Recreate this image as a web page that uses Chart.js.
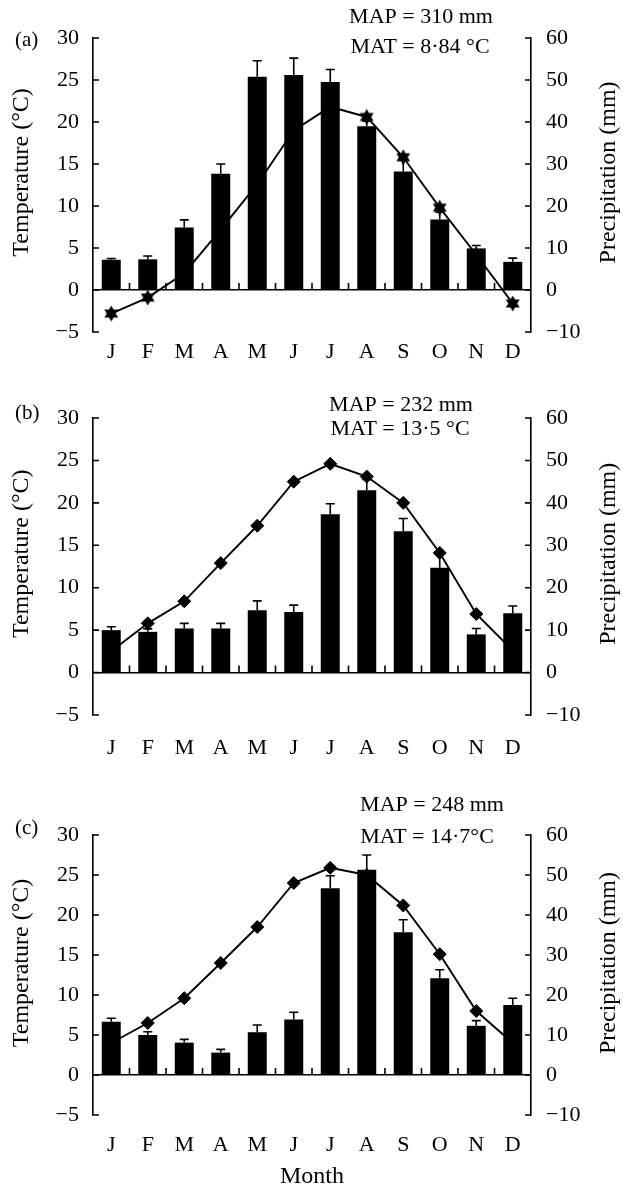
<!DOCTYPE html>
<html>
<head>
<meta charset="utf-8">
<script src="https://cdn.jsdelivr.net/npm/chart.js@4.4.0/dist/chart.umd.min.js"></script>
<style>
  html, body { margin: 0; padding: 0; background: #fff; }
  #wrap { position: relative; width: 623px; height: 1190px; }
  canvas { position: absolute; left: 0; }
</style>
</head>
<body>
<div id="wrap">
  <canvas id="chartA" width="623" height="385" style="top:0"></canvas>
  <canvas id="chartB" width="623" height="385" style="top:385px"></canvas>
  <canvas id="chartC" width="623" height="420" style="top:770px"></canvas>
</div>
<script>
const months = ['J', 'F', 'M', 'A', 'M', 'J', 'J', 'A', 'S', 'O', 'N', 'D'];
const tempTicks = [-5, 0, 5, 10, 15, 20, 25, 30];
const precipTicks = [-10, 0, 10, 20, 30, 40, 50, 60];

// (a)
const tempA = [-2.8, -0.9, 2.0, 7.2, 12.6, 19.0, 21.8, 20.6, 15.8, 9.8, 4.2, -1.6];
const precipA = [7.2, 7.3, 14.9, 27.7, 50.8, 51.2, 49.5, 39.0, 28.2, 16.8, 9.9, 6.7];
const precipSdA = [0.3, 0.8, 1.8, 2.3, 3.8, 4.0, 3.0, 1.2, 3.0, 1.7, 0.7, 0.9];
// (b)
const tempB = [2.5, 5.8, 8.4, 12.9, 17.3, 22.5, 24.6, 23.1, 20.0, 14.1, 6.9, 2.6];
const precipB = [10.0, 9.6, 10.4, 10.4, 14.7, 14.3, 37.3, 43.0, 33.3, 24.7, 9.0, 14.0];
const precipSdB = [0.8, 0.7, 1.2, 1.2, 2.2, 1.6, 2.5, 2.5, 3.0, 3.5, 1.4, 1.7];
// (c)
const tempC = [4.0, 6.5, 9.6, 14.0, 18.5, 24.0, 25.9, 25.0, 21.2, 15.1, 8.0, 4.0];
const precipC = [13.3, 10.0, 8.1, 5.6, 10.7, 13.9, 46.7, 51.3, 35.7, 24.2, 12.3, 17.5];
const precipSdC = [0.9, 0.8, 0.8, 0.8, 1.8, 1.8, 3.1, 3.7, 3.1, 2.1, 1.3, 1.7];

const panelLetters = ['(a)', '(b)', '(c)'];
const mapLabels = ['MAP = 310 mm', 'MAP = 232 mm', 'MAP = 248 mm'];
const matLabels = ['MAT = 8\u00b784 \u00b0C', 'MAT = 13\u00b75 \u00b0C', 'MAT = 14\u00b77\u00b0C'];

const SERIF = "'Liberation Serif', 'Times New Roman', serif";
Chart.defaults.font.family = SERIF;
Chart.defaults.font.size = 22;
Chart.defaults.color = '#000';

const minus = v => v < 0 ? '\u2212' + (-v) : '' + v;

// filled star marker for panel (a)
function starMarker() {
  const c = document.createElement('canvas');
  c.width = 17; c.height = 17;
  const g = c.getContext('2d');
  g.beginPath();
  for (let i = 0; i < 12; i++) {
    const r = i % 2 ? 4.5 : 8;
    const a = Math.PI / 6 * i - Math.PI / 2;
    g.lineTo(8.5 + r * Math.cos(a), 8.5 + r * Math.sin(a));
  }
  g.closePath();
  g.fillStyle = '#000';
  g.fill();
  return c;
}

// axis ticks, zero line ticks, error bars and the free text
const decor = {
  id: 'decor',
  beforeDatasetsDraw(chart, args, o) {
    const ctx = chart.ctx;
    const x = chart.scales.x, y = chart.scales.y, y1 = chart.scales.y1;
    ctx.save();
    ctx.strokeStyle = '#000';
    ctx.lineWidth = 1.6;
    ctx.beginPath();
    // inward ticks on both vertical axes
    y.ticks.forEach(t => {
      const py = y.getPixelForValue(t.value);
      ctx.moveTo(x.left, py); ctx.lineTo(x.left + 6, py);
    });
    y1.ticks.forEach(t => {
      const py = y1.getPixelForValue(t.value);
      ctx.moveTo(x.right, py); ctx.lineTo(x.right - 6, py);
    });
    // category boundary ticks on the zero line
    const y0 = y.getPixelForValue(0);
    for (let i = 1; i < months.length; i++) {
      const px = (x.getPixelForValue(i - 1) + x.getPixelForValue(i)) / 2;
      ctx.moveTo(px, y0); ctx.lineTo(px, y0 - 7);
    }
    // error bars
    const bars = chart.getDatasetMeta(0).data;
    bars.forEach((b, i) => {
      const top = y1.getPixelForValue(o.precip[i] + o.sd[i]);
      ctx.moveTo(b.x, b.y); ctx.lineTo(b.x, top);
      ctx.moveTo(b.x - 4.5, top); ctx.lineTo(b.x + 4.5, top);
    });
    ctx.stroke();
    ctx.restore();
  },
  afterDraw(chart, args, o) {
    const ctx = chart.ctx;
    const y = chart.scales.y;
    ctx.save();
    ctx.fillStyle = '#000';
    ctx.textBaseline = 'middle';
    ctx.font = '21px ' + SERIF;
    ctx.textAlign = 'left';
    ctx.fillText(o.letter, 15, o.letterY);
    ctx.font = '22px ' + SERIF;
    ctx.textAlign = 'center';
    ctx.fillText(o.map, o.mapX, o.mapY);
    ctx.fillText(o.mat, o.matX, o.matY);
    // axis titles centred a bit above the middle, as in the original
    ctx.font = '24px ' + SERIF;
    const ty = y.getPixelForValue(14);
    ctx.save();
    ctx.translate(22, ty); ctx.rotate(-Math.PI / 2);
    ctx.fillText('Temperature (\u00b0C)', 0, 0);
    ctx.restore();
    ctx.save();
    ctx.translate(609, ty); ctx.rotate(-Math.PI / 2);
    ctx.fillText('Precipitation (mm)', 0, 0);
    ctx.restore();
    if (o.xTitle) {
      const x = chart.scales.x;
      ctx.fillText(o.xTitle, (x.left + x.right) / 2, o.xTitleY);
    }
    ctx.restore();
  }
};

function makePanel(id, temp, precip, sd, marker, p) {
  return new Chart(document.getElementById(id), {
    data: {
      labels: months,
      datasets: [
        {
          type: 'bar',
          data: precip,
          yAxisID: 'y1',
          backgroundColor: '#000',
          barPercentage: 0.52,
          categoryPercentage: 1,
          order: 0
        },
        {
          type: 'line',
          data: temp,
          yAxisID: 'y',
          borderColor: '#000',
          borderWidth: 1.9,
          pointStyle: marker,
          pointRadius: 6.5,
          pointBorderWidth: 1,
          pointBackgroundColor: '#000',
          pointBorderColor: '#000',
          tension: 0,
          order: 1
        }
      ]
    },
    options: {
      responsive: false,
      animation: false,
      events: [],
      layout: { padding: { top: p.top, left: 0, right: 0, bottom: 0 } },
      plugins: {
        legend: { display: false },
        tooltip: { enabled: false },
        decor: Object.assign({ precip: precip, sd: sd }, p)
      },
      scales: {
        x: {
          grid: { display: false, drawTicks: false },
          border: { display: false },
          ticks: { padding: p.xPad, maxRotation: 0, autoSkip: false },
          afterFit: s => { s.height = p.xHeight; }
        },
        y: {
          position: 'left',
          min: tempTicks[0],
          max: tempTicks[tempTicks.length - 1],
          ticks: { stepSize: 5, padding: 14, callback: minus },
          grid: {
            drawTicks: false,
            lineWidth: 1.6,
            color: c => c.tick && c.tick.value === 0 ? '#000' : 'rgba(0,0,0,0)'
          },
          border: { display: true, color: '#000', width: 1.6 },
          afterFit: s => { s.width = 93; }
        },
        y1: {
          position: 'right',
          min: precipTicks[0],
          max: precipTicks[precipTicks.length - 1],
          ticks: { stepSize: 10, padding: 15, callback: minus },
          grid: { display: false, drawTicks: false },
          border: { display: true, color: '#000', width: 1.6 },
          afterFit: s => { s.width = 92; }
        }
      }
    },
    plugins: [decor]
  });
}

makePanel('chartA', tempA, precipA, precipSdA, starMarker(), {
  top: 38, xHeight: 53, xPad: 7,
  letter: panelLetters[0], letterY: 40,
  map: mapLabels[0], mapX: 421, mapY: 17,
  mat: matLabels[0], matX: 420, matY: 47
});
makePanel('chartB', tempB, precipB, precipSdB, 'rectRot', {
  top: 33, xHeight: 55, xPad: 20,
  letter: panelLetters[1], letterY: 28,
  map: mapLabels[1], mapX: 401, mapY: 20,
  mat: matLabels[1], matX: 400, matY: 44
});
makePanel('chartC', tempC, precipC, precipSdC, 'rectRot', {
  top: 65, xHeight: 75, xPad: 17,
  letter: panelLetters[2], letterY: 58,
  map: mapLabels[2], mapX: 432, mapY: 35,
  mat: matLabels[2], matX: 427, matY: 67,
  xTitle: 'Month', xTitleY: 407
});
</script>
</body>
</html>
